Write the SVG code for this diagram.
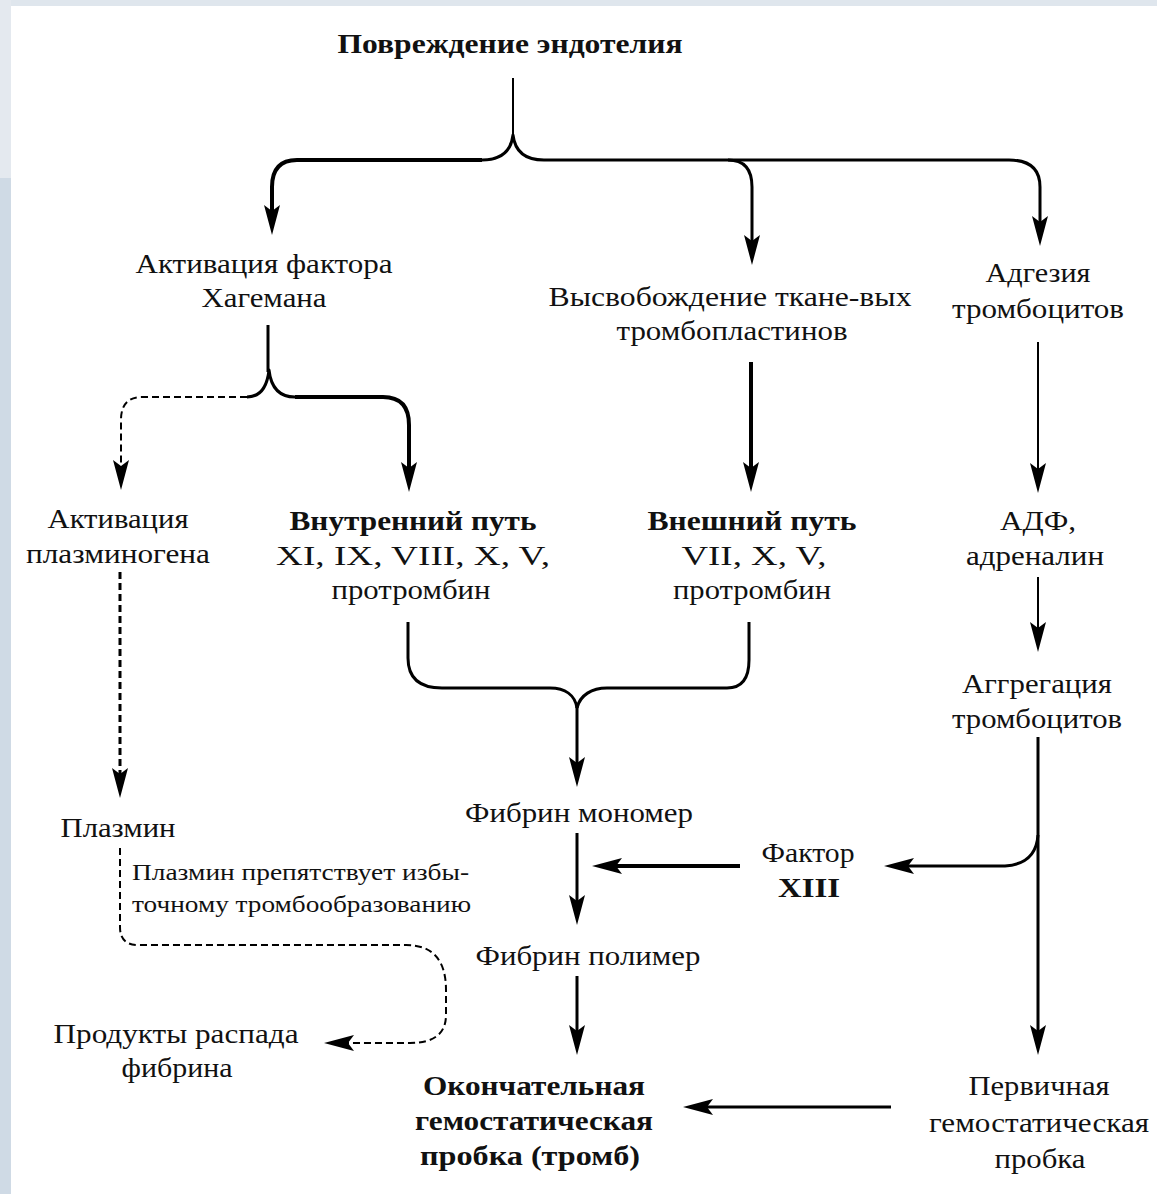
<svg xmlns="http://www.w3.org/2000/svg" width="1157" height="1194" viewBox="0 0 1157 1194">
<defs>
<style>
text{font-family:"Liberation Serif","DejaVu Serif",serif;font-size:28px;fill:#111;text-anchor:middle}
.b{font-weight:bold}
.s{font-size:24px;text-anchor:start}
.ln{fill:none;stroke:#000;stroke-linejoin:round}
.w2{stroke-width:2}
.w3{stroke-width:3}
.w4{stroke-width:4}
.d{stroke-dasharray:7 4}
</style>
<marker id="ah" viewBox="0 0 30 18" markerWidth="30" markerHeight="18" refX="11" refY="9" orient="auto" markerUnits="userSpaceOnUse">
<path d="M0,1 L30,9 L0,17 L6,9 Z" fill="#000"/>
</marker>
</defs>
<rect x="0" y="0" width="1157" height="1194" fill="#ffffff"/>
<rect x="0" y="0" width="1157" height="6" fill="#dfe6ed"/>
<rect x="0" y="0" width="11" height="178" fill="#e4e9ef"/>
<rect x="0" y="178" width="11" height="1016" fill="#cfdae5"/>

<g id="connectors">
<path class="ln w2" d="M513,78 V137"/>
<path class="ln w3" d="M482,160 C500,160 511,152 513,135 C515,152 526,160 544,160"/>
<path class="ln w4" d="M482,160 H297 Q272,160 272,187 V216" marker-end="url(#ah)"/>
<path class="ln w3" d="M544,160 H728 Q752,160 752,187 V246" marker-end="url(#ah)"/>
<path class="ln w3" d="M728,160 H1009 Q1040,160 1040,187 V227" marker-end="url(#ah)"/>

<path class="ln w3" d="M268,325 V372"/>
<path class="ln w3" d="M247,397 C260,397 267,388 269,370 C271,388 280,397 295,397"/>
<path class="ln w2 d" d="M247,397 H142 Q121,397 121,420 V471" marker-end="url(#ah)"/>
<path class="ln w4" d="M295,397 H383 Q409,397 409,425 V473" marker-end="url(#ah)"/>

<path class="ln w4" d="M751,362 V473" marker-end="url(#ah)"/>
<path class="ln w2" d="M1038,342 V474" marker-end="url(#ah)"/>
<path class="ln w3 d" d="M120,572 V779" marker-end="url(#ah)"/>

<path class="ln w3" d="M408,622 V658 Q408,688 442,688 H550 C565,688 575,695 577,708"/>
<path class="ln w3" d="M749,622 V660 Q749,688 727,688 H607 C592,688 580,695 577,708"/>
<path class="ln w3" d="M577,706 V768" marker-end="url(#ah)"/>

<path class="ln w2" d="M1038,577 V633" marker-end="url(#ah)"/>
<path class="ln w3" d="M1038,737 V1036" marker-end="url(#ah)"/>
<path class="ln w3" d="M1038,835 Q1036,864 1005,866 H903" marker-end="url(#ah)"/>

<path class="ln w3" d="M577,833 V906" marker-end="url(#ah)"/>
<path class="ln w4" d="M740,866 H611" marker-end="url(#ah)"/>
<path class="ln w3" d="M577,976 V1036" marker-end="url(#ah)"/>
<path class="ln w3" d="M891,1107 H702" marker-end="url(#ah)"/>

<path class="ln w2 d" d="M120,848 V927 Q120,945 138,945 H406 Q446,945 446,990 V1015 Q446,1043 410,1043 H343" marker-end="url(#ah)"/>
</g>

<g id="n-title"><text class="b" x="510" y="53" textLength="345" lengthAdjust="spacingAndGlyphs">Повреждение эндотелия</text></g>
<g id="n-hageman">
<text x="264" y="273" textLength="257" lengthAdjust="spacingAndGlyphs">Активация фактора</text>
<text x="264" y="307" textLength="125" lengthAdjust="spacingAndGlyphs">Хагемана</text>
</g>
<g id="n-tissue">
<text x="730" y="306" textLength="363" lengthAdjust="spacingAndGlyphs">Высвобождение ткане-вых</text>
<text x="732" y="340" textLength="231" lengthAdjust="spacingAndGlyphs">тромбопластинов</text>
</g>
<g id="n-adhesion">
<text x="1038" y="282" textLength="105" lengthAdjust="spacingAndGlyphs">Адгезия</text>
<text x="1038" y="318" textLength="172" lengthAdjust="spacingAndGlyphs">тромбоцитов</text>
</g>
<g id="n-plasminogen">
<text x="118" y="528" textLength="141" lengthAdjust="spacingAndGlyphs">Активация</text>
<text x="118" y="563" textLength="184" lengthAdjust="spacingAndGlyphs">плазминогена</text>
</g>
<g id="n-intrinsic">
<text class="b" x="413" y="530" textLength="247" lengthAdjust="spacingAndGlyphs">Внутренний путь</text>
<text x="413" y="565" textLength="274" lengthAdjust="spacingAndGlyphs">XI, IX, VIII, X, V,</text>
<text x="411" y="599" textLength="159" lengthAdjust="spacingAndGlyphs">протромбин</text>
</g>
<g id="n-extrinsic">
<text class="b" x="752" y="530" textLength="209" lengthAdjust="spacingAndGlyphs">Внешний путь</text>
<text x="754" y="565" textLength="145" lengthAdjust="spacingAndGlyphs">VII, X, V,</text>
<text x="752" y="599" textLength="158" lengthAdjust="spacingAndGlyphs">протромбин</text>
</g>
<g id="n-adp">
<text x="1038" y="530" textLength="76" lengthAdjust="spacingAndGlyphs">АДФ,</text>
<text x="1035" y="565" textLength="138" lengthAdjust="spacingAndGlyphs">адреналин</text>
</g>
<g id="n-aggregation">
<text x="1037" y="693" textLength="150" lengthAdjust="spacingAndGlyphs">Аггрегация</text>
<text x="1037" y="728" textLength="170" lengthAdjust="spacingAndGlyphs">тромбоцитов</text>
</g>
<g id="n-monomer"><text x="579" y="822" textLength="228" lengthAdjust="spacingAndGlyphs">Фибрин мономер</text></g>
<g id="n-factor13">
<text x="808" y="862" textLength="93" lengthAdjust="spacingAndGlyphs">Фактор</text>
<text class="b" x="809" y="897" textLength="62" lengthAdjust="spacingAndGlyphs">XIII</text>
</g>
<g id="n-plasmin"><text x="118" y="837" textLength="115" lengthAdjust="spacingAndGlyphs">Плазмин</text></g>
<g id="n-note">
<text class="s" x="132" y="880" textLength="337" lengthAdjust="spacingAndGlyphs">Плазмин препятствует избы-</text>
<text class="s" x="132" y="912" textLength="339" lengthAdjust="spacingAndGlyphs">точному тромбообразованию</text>
</g>
<g id="n-polymer"><text x="588" y="965" textLength="225" lengthAdjust="spacingAndGlyphs">Фибрин полимер</text></g>
<g id="n-products">
<text x="176" y="1043" textLength="245" lengthAdjust="spacingAndGlyphs">Продукты распада</text>
<text x="177" y="1077" textLength="111" lengthAdjust="spacingAndGlyphs">фибрина</text>
</g>
<g id="n-final">
<text class="b" x="534" y="1095" textLength="222" lengthAdjust="spacingAndGlyphs">Окончательная</text>
<text class="b" x="534" y="1130" textLength="238" lengthAdjust="spacingAndGlyphs">гемостатическая</text>
<text class="b" x="530" y="1165" textLength="220" lengthAdjust="spacingAndGlyphs">пробка (тромб)</text>
</g>
<g id="n-primary">
<text x="1039" y="1095" textLength="141" lengthAdjust="spacingAndGlyphs">Первичная</text>
<text x="1039" y="1132" textLength="220" lengthAdjust="spacingAndGlyphs">гемостатическая</text>
<text x="1040" y="1168" textLength="91" lengthAdjust="spacingAndGlyphs">пробка</text>
</g>
</svg>
